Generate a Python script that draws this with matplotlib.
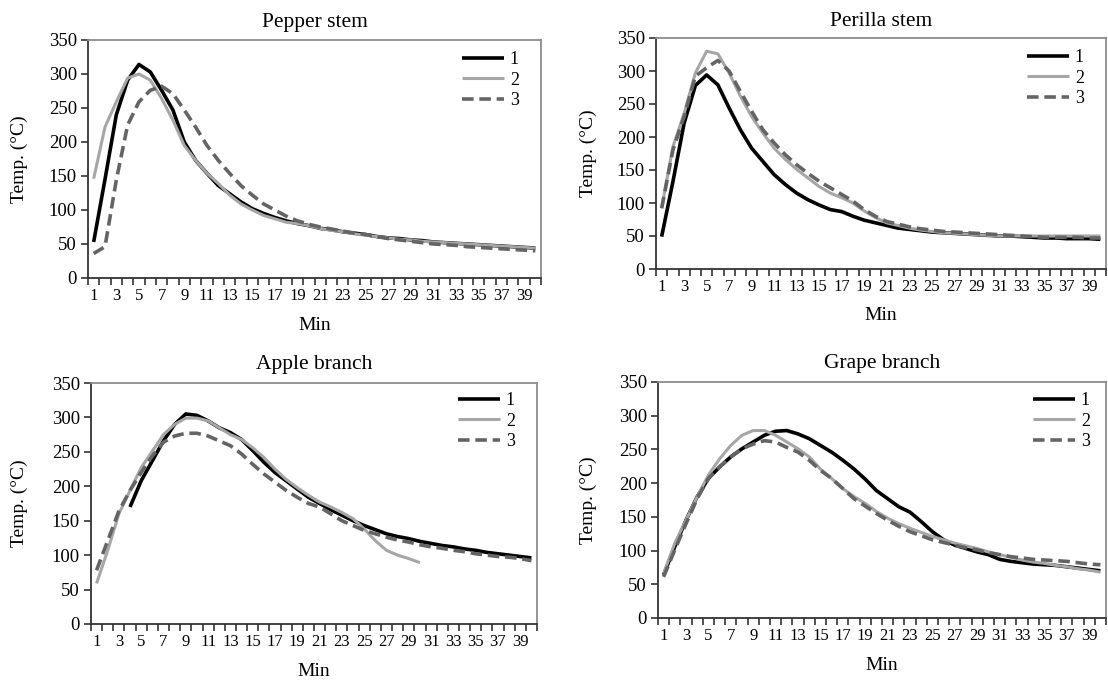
import matplotlib
matplotlib.use("Agg")
import matplotlib.pyplot as plt
import numpy as np

plt.rcParams['font.family'] = ['Liberation Serif', 'DejaVu Serif']

minutes = list(range(1, 41))
xtick_labels = [str(m) for m in range(1, 41, 2)]
series_labels = ["1", "2", "3"]
titles = ["Pepper stem", "Perilla stem", "Apple branch", "Grape branch"]

pepper_1 = [53, 145, 240, 291, 314, 303, 276, 247, 200, 173, 154, 136, 124, 112, 102, 95, 89, 84, 80, 77,
            73, 71, 68, 66, 64, 61, 59, 58, 56, 55, 53, 52, 51, 50, 49, 48, 47, 46, 45, 44]
pepper_2 = [146, 222, 259, 294, 300, 291, 264, 232, 195, 173, 154, 139, 122, 109, 100, 92, 87, 82, 80, 77,
            73, 70, 68, 65, 63, 61, 59, 57, 56, 54, 53, 52, 51, 50, 49, 48, 47, 46, 45, 44]
pepper_3 = [36, 46, 144, 225, 259, 276, 282, 271, 247, 222, 195, 173, 154, 136, 122, 109, 100, 91, 84, 79,
            75, 72, 69, 66, 64, 61, 58, 56, 54, 52, 50, 49, 48, 46, 45, 44, 43, 42, 41, 40]

perilla_1 = [49, 132, 221, 278, 294, 279, 244, 211, 183, 163, 143, 128, 115, 105, 97, 90, 87, 80, 74, 70,
             66, 62, 60, 58, 56, 55, 54, 53, 52, 51, 50, 50, 49, 48, 47, 47, 46, 46, 46, 45]
perilla_2 = [92, 185, 236, 297, 330, 326, 297, 262, 231, 206, 183, 166, 151, 138, 125, 115, 108, 100, 88, 78,
             70, 66, 62, 59, 57, 55, 54, 53, 52, 51, 50, 50, 50, 50, 50, 50, 50, 50, 50, 50]
perilla_3 = [92, 180, 231, 292, 305, 316, 300, 269, 239, 211, 191, 173, 158, 145, 133, 123, 113, 103, 90, 80,
             72, 68, 64, 61, 59, 57, 56, 55, 54, 53, 52, 51, 50, 49, 48, 48, 48, 48, 47, 47]

apple_1 = [None, None, None, 170, 208, 237, 266, 290, 305, 303, 295, 285, 278, 268, 252, 235, 220, 208, 196, 184,
           175, 166, 158, 150, 143, 137, 131, 127, 124, 120, 117, 114, 112, 109, 107, 104, 102, 100, 98, 96]
apple_2 = [59, 107, 160, 194, 227, 251, 275, 290, 299, 299, 295, 285, 275, 268, 256, 242, 225, 210, 198, 187,
           177, 170, 162, 153, 138, 121, 107, 100, 95, 89] + [None] * 10
apple_3 = [78, 121, 164, 194, 220, 244, 264, 273, 277, 277, 273, 266, 259, 247, 232, 218, 206, 194, 184, 175,
           170, 160, 150, 143, 136, 131, 126, 122, 119, 115, 112, 110, 107, 105, 102, 100, 98, 97, 95, 92]

grape_1 = [64, 106, 145, 180, 207, 224, 239, 251, 261, 271, 277, 278, 273, 266, 256, 246, 234, 221, 206, 189,
           177, 165, 157, 143, 128, 116, 108, 103, 98, 94, 87, 84, 82, 80, 79, 78, 76, 74, 72, 70]
grape_2 = [66, 111, 145, 180, 212, 236, 256, 271, 278, 278, 271, 261, 251, 239, 221, 207, 192, 180, 170, 158,
           148, 140, 133, 127, 121, 116, 111, 107, 103, 98, 94, 90, 86, 83, 81, 78, 76, 73, 71, 68]
grape_3 = [61, 101, 140, 177, 207, 224, 239, 251, 258, 263, 261, 253, 246, 234, 219, 207, 192, 177, 166, 155,
           145, 136, 128, 122, 116, 112, 108, 104, 101, 97, 94, 91, 89, 87, 86, 85, 84, 82, 80, 79]

panels = [
    (pepper_1, pepper_2, pepper_3),
    (perilla_1, perilla_2, perilla_3),
    (apple_1, apple_2, apple_3),
    (grape_1, grape_2, grape_3),
]

# layout (pixels): left, top, right, bottom of each plot area
boxes = [(88, 40, 541, 278), (656, 38, 1106, 269), (91, 383, 537, 624), (658, 382, 1106, 618)]
title_base = [27, 26, 369, 368]       # title baseline y (px)
ylabel_x = [19, 588, 19, 588]         # centre x of y label (px)
xlabel_gap = 47                       # x label centre below plot area (px)
legend_row1 = [62, 60, 403, 403]      # y of first legend row (px)
legend_x = [462, 1027, 458, 1033]     # start of legend line (px)

W, H = 1108, 682

styles = [
    dict(color="#000000", lw=2.6, ls="-"),
    dict(color="#a6a6a6", lw=2.2, ls="-"),
    dict(color="#646464", lw=2.6, ls=(0, (3.2, 1.6))),
]

fig = plt.figure(figsize=(W / 100, H / 100), dpi=100)

for i, (title, data) in enumerate(zip(titles, panels)):
    l, t, r, b = boxes[i]
    ax = fig.add_axes([l / W, (H - b) / H, (r - l) / W, (b - t) / H])
    for vals, st, lab in zip(data, styles, series_labels):
        y = np.array([np.nan if v is None else v for v in vals], dtype=float)
        ax.plot(minutes, y, label=lab, solid_capstyle="butt", dash_capstyle="butt", **st)
    ax.set_xlim(0.5, 40.5)
    ax.set_ylim(0, 350)
    ax.set_yticks(range(0, 351, 50))
    ax.set_xticks(range(1, 41, 2))
    ax.set_xticklabels(xtick_labels)
    ax.set_xticks(np.arange(0.5, 41, 1.0), minor=True)
    ax.tick_params(axis="x", which="major", length=0, pad=7, labelsize=12)
    ax.tick_params(axis="x", which="minor", length=5, width=1.2, direction="out", color="#333333")
    ax.tick_params(axis="y", length=5, width=1.2, direction="out", color="#333333", labelsize=13.5, pad=3)
    for side in ("left", "bottom"):
        ax.spines[side].set_color("#333333")
        ax.spines[side].set_linewidth(1.3)
    for side in ("top", "right"):
        ax.spines[side].set_color("#8c8c8c")
        ax.spines[side].set_linewidth(1.3)

    hpx = b - t
    wpx = r - l
    ax.text(0.5, (b - title_base[i]) / hpx, title, transform=ax.transAxes,
            ha="center", va="baseline", fontsize=15.5)
    ax.text(0.5, -xlabel_gap / hpx, "Min", transform=ax.transAxes,
            ha="center", va="center", fontsize=14)
    ax.text((ylabel_x[i] - l) / wpx, 0.5, "Temp. (°C)", transform=ax.transAxes,
            ha="center", va="center", rotation=90, fontsize=14)

    ax.legend(loc="upper left",
              bbox_to_anchor=((legend_x[i] - l) / wpx, (b - legend_row1[i] + 11) / hpx),
              frameon=False, fontsize=13, handlelength=2.35, handletextpad=0.3,
              labelspacing=0.2, borderpad=0, borderaxespad=0)

fig.savefig("out.png", dpi=100)
